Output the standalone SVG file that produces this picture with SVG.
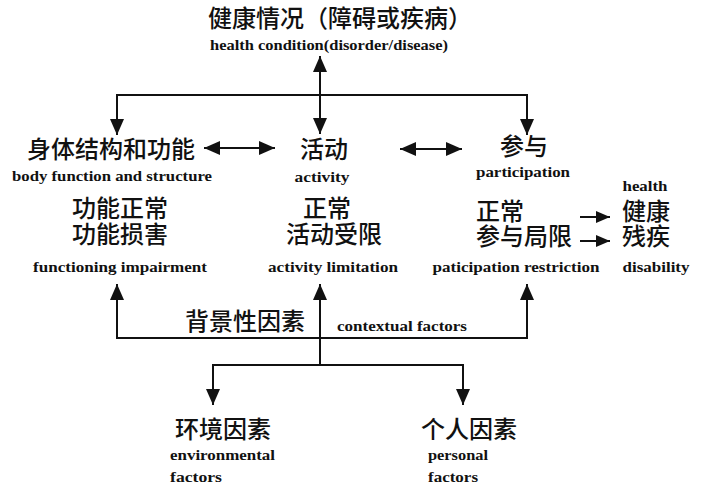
<svg xmlns="http://www.w3.org/2000/svg" width="704" height="492" viewBox="0 0 704 492">
<style>
.zh{font-family:"Noto Sans CJK SC","Noto Sans",sans-serif;font-size:24px;font-weight:500;fill:#111}
.en{font-family:"Liberation Serif","DejaVu Serif",serif;font-size:14px;font-weight:bold;fill:#111}
.ln{fill:none;stroke:#111;stroke-width:2}
</style>
<defs>
<marker id="ah" markerUnits="userSpaceOnUse" markerWidth="16" markerHeight="14" viewBox="0 0 16 14" refX="16" refY="7" orient="auto-start-reverse">
<path d="M0 0 L16 7 L0 14 Z" fill="#111"/>
</marker>
<marker id="as" markerUnits="userSpaceOnUse" markerWidth="14" markerHeight="12" viewBox="0 0 14 12" refX="14" refY="6" orient="auto">
<path d="M0 0 L14 6 L0 12 Z" fill="#111"/>
</marker>
</defs>
<rect width="704" height="492" fill="#fff"/>
<g id="connectors">
<path class="ln" d="M320 56 V134" marker-start="url(#ah)" marker-end="url(#ah)"/>
<path class="ln" d="M320 95 H117 V135" marker-end="url(#ah)"/>
<path class="ln" d="M320 95 H527 V135" marker-end="url(#ah)"/>
<path class="ln" d="M204 148 H275" marker-start="url(#ah)" marker-end="url(#ah)"/>
<path class="ln" d="M400 149 H462" marker-start="url(#ah)" marker-end="url(#ah)"/>
<path class="ln" d="M580 217 H610" marker-end="url(#as)"/>
<path class="ln" d="M580 241 H610" marker-end="url(#as)"/>
<path class="ln" d="M320 365 V284" marker-end="url(#ah)"/>
<path class="ln" d="M320 338 H117 V284" marker-end="url(#ah)"/>
<path class="ln" d="M320 338 H527 V284" marker-end="url(#ah)"/>
<path class="ln" d="M320 365 H213 V405" marker-end="url(#ah)"/>
<path class="ln" d="M320 365 H463 V405" marker-end="url(#ah)"/>
</g>
<g id="health-condition">
<text class="zh" x="340" y="27" text-anchor="middle">健康情况（障碍或疾病）</text>
<text class="en" x="329" y="50" text-anchor="middle" textLength="238" lengthAdjust="spacingAndGlyphs">health condition(disorder/disease)</text>
</g>
<g id="body-function">
<text class="zh" x="111" y="158" text-anchor="middle">身体结构和功能</text>
<text class="en" x="112" y="181" text-anchor="middle" textLength="200" lengthAdjust="spacingAndGlyphs">body function and structure</text>
<text class="zh" x="120" y="217" text-anchor="middle">功能正常</text>
<text class="zh" x="120" y="243" text-anchor="middle">功能损害</text>
<text class="en" x="120" y="272" text-anchor="middle" textLength="174" lengthAdjust="spacingAndGlyphs">functioning impairment</text>
</g>
<g id="activity">
<text class="zh" x="324" y="158" text-anchor="middle">活动</text>
<text class="en" x="322" y="182" text-anchor="middle" textLength="55" lengthAdjust="spacingAndGlyphs">activity</text>
<text class="zh" x="327" y="217" text-anchor="middle">正常</text>
<text class="zh" x="334" y="243" text-anchor="middle">活动受限</text>
<text class="en" x="333" y="272" text-anchor="middle" textLength="130" lengthAdjust="spacingAndGlyphs">activity limitation</text>
</g>
<g id="participation">
<text class="zh" x="524" y="155" text-anchor="middle">参与</text>
<text class="en" x="523" y="177" text-anchor="middle" textLength="94" lengthAdjust="spacingAndGlyphs">participation</text>
<text class="zh" x="476" y="220">正常</text>
<text class="zh" x="476" y="245">参与局限</text>
<text class="en" x="516" y="272" text-anchor="middle" textLength="167" lengthAdjust="spacingAndGlyphs">paticipation restriction</text>
</g>
<g id="outcome">
<text class="en" x="645" y="191" text-anchor="middle" textLength="45" lengthAdjust="spacingAndGlyphs">health</text>
<text class="zh" x="622" y="220">健康</text>
<text class="zh" x="622" y="245">残疾</text>
<text class="en" x="656" y="272" text-anchor="middle" textLength="67" lengthAdjust="spacingAndGlyphs">disability</text>
</g>
<g id="contextual-factors">
<text class="zh" x="245" y="330" text-anchor="middle">背景性因素</text>
<text class="en" x="337" y="331" textLength="130" lengthAdjust="spacingAndGlyphs">contextual factors</text>
</g>
<g id="environmental-factors">
<text class="zh" x="175" y="438">环境因素</text>
<text class="en" x="170" y="460" textLength="105" lengthAdjust="spacingAndGlyphs">environmental</text>
<text class="en" x="170" y="482" textLength="52" lengthAdjust="spacingAndGlyphs">factors</text>
</g>
<g id="personal-factors">
<text class="zh" x="421" y="438">个人因素</text>
<text class="en" x="428" y="460" textLength="60" lengthAdjust="spacingAndGlyphs">personal</text>
<text class="en" x="428" y="482" textLength="50" lengthAdjust="spacingAndGlyphs">factors</text>
</g>
</svg>
